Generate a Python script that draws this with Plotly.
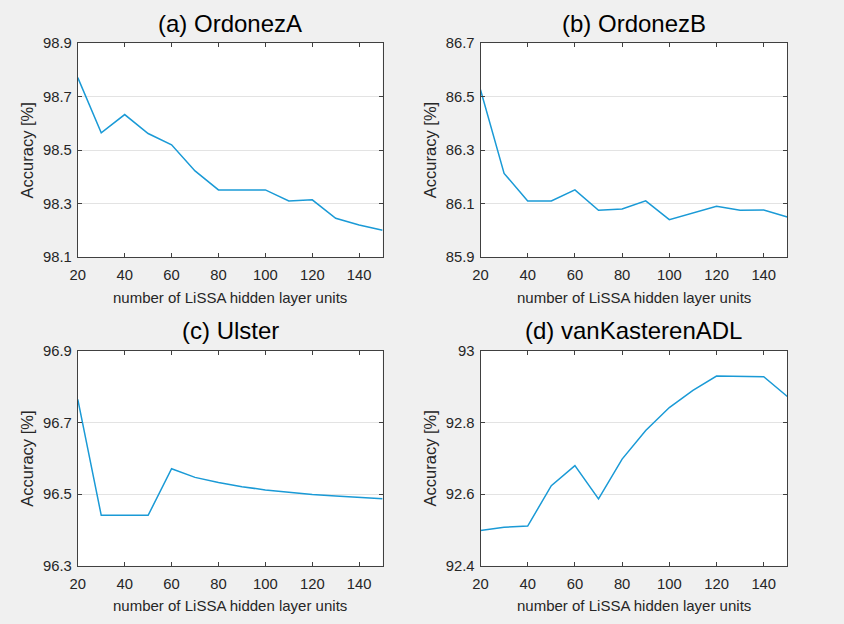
import plotly.graph_objects as go

units = [20, 30, 40, 50, 60, 70, 80, 90, 100, 110, 120, 130, 140, 150]

acc_ordonez_a = [98.771, 98.565, 98.633, 98.562, 98.520, 98.422, 98.351, 98.351,
                 98.351, 98.310, 98.314, 98.245, 98.220, 98.200]
acc_ordonez_b = [86.526, 86.213, 86.110, 86.110, 86.151, 86.075, 86.080, 86.110,
                 86.040, 86.066, 86.090, 86.075, 86.076, 86.050]
acc_ulster = [96.765, 96.441, 96.441, 96.441, 96.571, 96.547, 96.533, 96.521,
              96.512, 96.505, 96.499, 96.495, 96.491, 96.487]
acc_vankasteren = [92.499, 92.508, 92.511, 92.624, 92.680, 92.587, 92.698, 92.778,
                   92.842, 92.890, 92.930, 92.929, 92.928, 92.873]

titles = ["(a) OrdonezA", "(b) OrdonezB", "(c) Ulster", "(d) vanKasterenADL"]
series = [acc_ordonez_a, acc_ordonez_b, acc_ulster, acc_vankasteren]
y_ranges = [[98.1, 98.9], [85.9, 86.7], [96.3, 96.9], [92.4, 93.0]]
y_ticks = [[98.1, 98.3, 98.5, 98.7, 98.9],
           [85.9, 86.1, 86.3, 86.5, 86.7],
           [96.3, 96.5, 96.7, 96.9],
           [92.4, 92.6, 92.8, 93.0]]
y_ticktext = [["98.1", "98.3", "98.5", "98.7", "98.9"],
              ["85.9", "86.1", "86.3", "86.5", "86.7"],
              ["96.3", "96.5", "96.7", "96.9"],
              ["92.4", "92.6", "92.8", "93"]]
x_ticks = [20, 40, 60, 80, 100, 120, 140]
x_label = "number of LiSSA hidden layer units"
y_label = "Accuracy [%]"

W, H = 844, 624
# observed capture mapping: picture = s * (page + 8)
SX, SY, PAD = 844 / 860, 624 / 640, 8
# target plot-area boxes in picture pixels (left, right, top, bottom)
boxes = [(77, 379, 43, 257), (476, 780, 43, 257),
         (77, 379, 351, 566), (476, 780, 351, 566)]


def px(o):
    return (o / SX - PAD) / W


def py(o):
    return 1 - (o / SY - PAD) / H


FONT = "Liberation Sans, Arial, Helvetica, sans-serif"
TXT = "#262626"
AXC = "#404040"
LINE = "#1a9ad6"
BG = "#f0f0f0"

fig = go.Figure()
annotations = []
for i, (ys, box) in enumerate(zip(series, boxes)):
    l, r, t, b = box
    n = "" if i == 0 else str(i + 1)
    fig.add_trace(go.Scatter(x=units, y=ys, mode="lines",
                             line=dict(color=LINE, width=1.5),
                             xaxis="x" + n, yaxis="y" + n, showlegend=False,
                             hoverinfo="skip"))
    common = dict(showline=True, linecolor=AXC, linewidth=1, mirror="ticks",
                  ticks="inside", ticklen=4, tickcolor=AXC, zeroline=False,
                  tickfont=dict(family=FONT, size=14.8, color=TXT))
    fig.layout["xaxis" + n] = dict(
        domain=[px(l), px(r)], anchor="y" + n, range=[20, 150],
        tickvals=x_ticks, showgrid=False, ticklabelstandoff=4, **common)
    fig.layout["yaxis" + n] = dict(
        domain=[py(b), py(t)], anchor="x" + n, range=y_ranges[i],
        tickvals=y_ticks[i], ticktext=y_ticktext[i], showgrid=True,
        gridcolor="#e3e3e3", gridwidth=1, ticklabelstandoff=2, **common)
    cx = (l + r) / 2
    annotations.append(dict(text=titles[i], x=px(cx), y=py(t - 20),
                            xref="paper", yref="paper", showarrow=False,
                            xanchor="center", yanchor="middle",
                            font=dict(family=FONT, size=24, color="#000000")))
    annotations.append(dict(text=x_label, x=px(cx), y=py(b + 40),
                            xref="paper", yref="paper", showarrow=False,
                            xanchor="center", yanchor="middle",
                            font=dict(family=FONT, size=15, color=TXT)))
    annotations.append(dict(text=y_label, x=px(l - 50), y=py((t + b) / 2),
                            xref="paper", yref="paper", showarrow=False,
                            textangle=-90, xanchor="center", yanchor="middle",
                            font=dict(family=FONT, size=16.5, color=TXT)))

fig.update_layout(
    width=W, height=H,
    margin=dict(l=0, r=0, t=0, b=0),
    paper_bgcolor=BG,
    plot_bgcolor="#ffffff",
    annotations=annotations,
)

fig.write_html(
    "out.html",
    config={"displayModeBar": False},
    post_script=(
        "document.documentElement.style.margin='0';"
        "document.documentElement.style.padding='0';"
        "document.documentElement.style.overflow='hidden';"
        "document.documentElement.style.background='" + BG + "';"
        "document.body.style.margin='0';"
        "document.body.style.padding='0';"
        "document.body.style.overflow='hidden';"
        "document.body.style.background='" + BG + "';"
    ),
)
